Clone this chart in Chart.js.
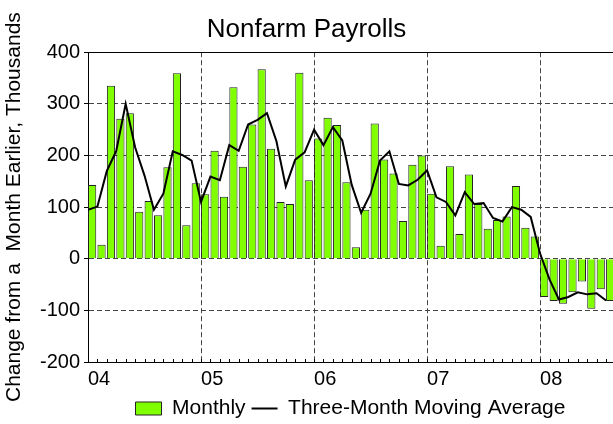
<!DOCTYPE html>
<html>
<head>
<meta charset="utf-8">
<title>Nonfarm Payrolls</title>
<script src="https://cdn.jsdelivr.net/npm/chart.js@4.4.0/dist/chart.umd.min.js"></script>
<style>
  body { margin: 0; background: #fff; }
</style>
</head>
<body>
<canvas id="payrolls" width="613" height="424"></canvas>
<script>
// change from a month earlier, thousands - Jan 2004 .. Aug 2008
const monthly = [
    143, 27, 335, 271, 282, 91, 112, 84, 177, 359, 65, 146,
    125, 209, 120, 332, 178, 260, 367, 213, 110, 106, 360, 152,
    233, 273, 259, 148, 22, 95, 262, 192, 165, 73, 182, 200,
    126, 25, 179, 48, 163, 106, 58, 75, 82, 141, 60, 43,
    -74, -82, -87, -65, -44, -97, -59, -82
];
// three-month moving average, plotted at the start of each month
const movingAvg = [
    95, 101, 170, 209, 300, 216, 161, 95, 126, 208, 201, 190,
    110, 159, 152, 220, 209, 260, 269, 282, 228, 140, 192, 206,
    250, 220, 255, 229, 143, 89, 126, 190, 208, 145, 142, 153,
    171, 119, 110, 84, 129, 106, 108, 79, 72, 100, 95, 81,
    10, -40, -79, -74, -65, -69, -67, -81
];
const yearLabels = ['04', '05', '06', '07', '08'];
const seriesNames = ['Monthly', 'Three-Month Moving Average'];

Chart.defaults.font.family = "'Liberation Sans', Arial, sans-serif";
Chart.defaults.color = '#000';

// little month ticks along the bottom axis, pointing inward
const monthTicks = {
    id: 'monthTicks',
    afterDraw(chart) {
        const {ctx, chartArea, scales} = chart;
        ctx.save();
        ctx.strokeStyle = '#000';
        ctx.lineWidth = 1;
        ctx.beginPath();
        for (let m = 1; m <= monthly.length; m++) {
            const px = Math.round(scales.x.getPixelForValue(m)) + 0.5;
            if (px > chartArea.right) break;
            ctx.moveTo(px, chartArea.bottom);
            ctx.lineTo(px, chartArea.bottom - 3);
        }
        ctx.stroke();
        ctx.restore();
    }
};

const legendLook = [
    { pointStyle: 'rect', fillStyle: '#80ff00', strokeStyle: '#222', lineWidth: 1 },
    { pointStyle: 'line', fillStyle: '#000', strokeStyle: '#000', lineWidth: 2 }
];

const ctx = document.getElementById('payrolls').getContext('2d');
const chart = new Chart(ctx, {
    type: 'bar',
    data: {
        datasets: [{
            label: seriesNames[0],
            data: monthly.map((v, i) => ({x: i + 0.44, y: v})),
            backgroundColor: '#80ff00',
            borderColor: '#222',
            borderWidth: 1,
            barPercentage: 0.87,
            categoryPercentage: 1,
            order: 1
        }, {
            type: 'line',
            label: seriesNames[1],
            data: movingAvg.map((v, i) => ({x: i, y: v})),
            borderColor: '#000',
            borderWidth: 2,
            pointRadius: 0,
            tension: 0,
            order: 0
        }]
    },
    options: {
        responsive: false,
        animation: false,
        layout: { padding: { bottom: -5 } },
        plugins: {
            title: {
                display: true,
                text: 'Nonfarm Payrolls',
                font: { size: 26, weight: 'normal' },
                padding: { top: 14, bottom: 7 }
            },
            legend: {
                position: 'bottom',
                fullSize: false,
                labels: {
                    font: { size: 21 },
                    usePointStyle: true,
                    pointStyleWidth: 26,
                    boxHeight: 13,
                    padding: 6,
                    sort: (a, b) => a.datasetIndex - b.datasetIndex,
                    generateLabels: c => Chart.defaults.plugins.legend.labels.generateLabels(c)
                        .map(item => ({ ...item, ...legendLook[item.datasetIndex] }))
                }
            },
            tooltip: { enabled: false }
        },
        scales: {
            x: {
                type: 'linear',
                min: 0,
                max: 55.74,
                offset: false,
                afterFit: s => { s.height = 30; },
                ticks: {
                    stepSize: 12,
                    includeBounds: false,
                    autoSkip: false,
                    maxRotation: 0,
                    align: 'start',
                    padding: 5,
                    font: { size: 20 },
                    callback: v => yearLabels[v / 12]
                },
                grid: { color: '#444', drawTicks: false, offset: false },
                border: { color: '#000', dash: [5, 3] }
            },
            y: {
                min: -200,
                max: 400,
                afterFit: s => { s.width = 88; },
                ticks: { stepSize: 100, padding: 4, font: { size: 20 } },
                grid: {
                    color: c => (c.tick && c.tick.value === 400) ? '#000' : '#444',
                    tickLength: 4,
                    tickColor: '#000'
                },
                border: {
                    color: '#000',
                    dash: c => (c.tick && c.tick.value === 400) ? [] : [5, 3]
                },
                title: {
                    display: true,
                    text: 'Change from a  Month Earlier, Thousands',
                    font: { size: 21 },
                    padding: { top: 2, bottom: 0 }
                }
            }
        }
    },
    plugins: [monthTicks]
});
</script>
</body>
</html>
